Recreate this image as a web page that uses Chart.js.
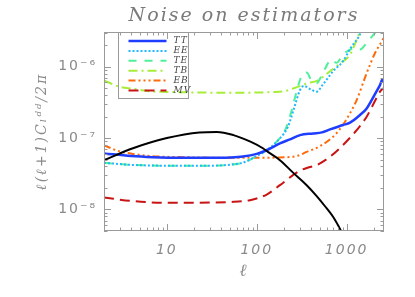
<!DOCTYPE html>
<html>
<head>
<meta charset="utf-8">
<script src="https://cdn.jsdelivr.net/npm/chart.js@4.4.1/dist/chart.umd.min.js"></script>
<style>
  html, body { margin: 0; padding: 0; background: #fff; }
</style>
</head>
<body>
<canvas id="chart" width="415" height="297"></canvas>
<script>
"use strict";

// multipole l and noise values
const sigEll = [2, 4.2, 10, 23, 36, 55, 85, 117, 133, 181, 253, 359, 464, 574, 705, 860, 950];
const sigVal = [4.9e-8, 7.2e-8, 1.0e-7, 1.2e-7, 1.22e-7, 1.1e-7, 8.9e-8, 7.2e-8, 6.4e-8, 4.9e-8, 3.28e-8, 2.19e-8, 1.54e-8, 1.11e-8, 7.9e-9, 5.1e-9, 3.95e-9];

const ttEll = [2, 4, 7, 15, 30, 50, 70, 100, 130, 181, 234, 303, 422, 530, 652, 910, 1089, 1406, 1668, 1896, 2100, 2345, 2500, 2600];
const ttVal = [6.1e-8, 5.6e-8, 5.4e-8, 5.3e-8, 5.3e-8, 5.35e-8, 5.5e-8, 6.0e-8, 6.8e-8, 8.4e-8, 9.6e-8, 1.1e-7, 1.16e-7, 1.2e-7, 1.32e-7, 1.52e-7, 1.64e-7, 2.1e-7, 2.6e-7, 3.4e-7, 4.3e-7, 5.5e-7, 6.6e-7, 6.0e-7];

const eeEll = [2, 4.2, 10, 23, 65, 100, 130, 181, 222, 263, 303, 335, 395, 464, 540, 705, 910, 1110, 1340, 1460];
const eeVal = [4.5e-8, 4.2e-8, 4.1e-8, 4.09e-8, 4.42e-8, 5.6e-8, 6.8e-8, 9.9e-8, 1.44e-7, 2.75e-7, 4.71e-7, 5.36e-7, 4.82e-7, 4.46e-7, 5.53e-7, 8.6e-7, 1.19e-6, 1.83e-6, 2.53e-6, 3.1e-6];

const teEll = [2, 4.2, 10, 23, 65, 100, 130, 181, 207, 245, 280, 320, 359, 403, 464, 520, 680, 770, 910, 1089, 1237, 1406, 1668, 2062, 2250];
const teVal = [4.5e-8, 4.2e-8, 4.1e-8, 4.09e-8, 4.42e-8, 5.6e-8, 6.8e-8, 1.0e-7, 1.29e-7, 2.47e-7, 4.71e-7, 7.65e-7, 8.24e-7, 6.5e-7, 5.85e-7, 7.24e-7, 1.25e-6, 1.13e-6, 1.47e-6, 1.73e-6, 1.83e-6, 1.73e-6, 2.15e-6, 2.97e-6, 3.4e-6];

const tbEll = [2, 3, 4.2, 6.5, 10, 20, 50, 100, 150, 207, 290, 374, 464, 652, 840, 1089, 1291, 1420];
const tbVal = [6.4e-7, 5.2e-7, 4.9e-7, 4.5e-7, 4.42e-7, 4.35e-7, 4.3e-7, 4.33e-7, 4.4e-7, 4.56e-7, 5.25e-7, 5.9e-7, 6.3e-7, 8.6e-7, 1.1e-6, 1.47e-6, 2.37e-6, 3.2e-6];

const ebEll = [2, 3, 4.2, 6.5, 15, 40, 100, 181, 278, 359, 505, 705, 880, 1089, 1291, 1668, 2062, 2449, 2600];
const ebVal = [7.9e-8, 6.5e-8, 6.0e-8, 5.6e-8, 5.4e-8, 5.3e-8, 5.3e-8, 5.36e-8, 5.6e-8, 6.4e-8, 7.7e-8, 1.04e-7, 1.44e-7, 2.22e-7, 3.4e-7, 8.1e-7, 1.54e-6, 2.24e-6, 2.6e-6];

const mvEll = [2, 4.2, 10, 55, 84, 129, 181, 290, 380, 464, 652, 910, 1291, 1668, 2062, 2345, 2550];
const mvVal = [1.47e-8, 1.31e-8, 1.24e-8, 1.28e-8, 1.35e-8, 1.62e-8, 2.19e-8, 3.4e-8, 3.9e-8, 4.18e-8, 5.47e-8, 7.98e-8, 1.29e-7, 1.99e-7, 3.3e-7, 4.46e-7, 4.98e-7];

const xTicks = [10, 100, 1000];
const yTickLabels = { "-6": "10\u207B\u2076", "-7": "10\u207B\u2077", "-8": "10\u207B\u2078" };

const AXIS = "#9a9a9a";
const TEXT = "#8a8a8a";

const pts = (ell, val) => ell.map((l, i) => ({ x: l, y: val[i] }));

const line = (label, ell, val, color, dash, width) => ({
  label, data: pts(ell, val),
  borderColor: color, backgroundColor: color,
  borderDash: dash, borderWidth: width || 2,
  pointRadius: 0, fill: false,
  cubicInterpolationMode: "monotone",
  clip: 0,
});

// decade check: returns significand (1..9) for nice ticks, 0 otherwise
const signif = v => {
  const s = v / Math.pow(10, Math.floor(Math.log10(v) + 1e-9));
  return Math.abs(s - Math.round(s)) < 1e-6 ? Math.round(s) : 0;
};

const spacing = {
  id: "spacing",
  beforeDraw(chart) { chart.ctx.letterSpacing = "2px"; },
};

// IDL-style frame with inward ticks on all four sides
const frame = {
  id: "frame",
  afterDatasetsDraw(chart) {
    const { ctx, chartArea: a, scales: { x, y } } = chart;
    ctx.save();
    ctx.strokeStyle = AXIS;
    ctx.lineWidth = 1;
    ctx.strokeRect(a.left + 0.5, a.top + 0.5, a.right - a.left - 1, a.bottom - a.top - 1);
    ctx.beginPath();
    x.ticks.forEach(t => {
      const s = signif(t.value);
      if (!s) return;
      const len = (s === 1 || s === 10) ? 7 : 3.5;
      const px = Math.round(x.getPixelForValue(t.value)) + 0.5;
      ctx.moveTo(px, a.bottom); ctx.lineTo(px, a.bottom - len);
      ctx.moveTo(px, a.top);    ctx.lineTo(px, a.top + len);
    });
    y.ticks.forEach(t => {
      const s = signif(t.value);
      if (!s) return;
      const len = (s === 1 || s === 10) ? 7 : 3.5;
      const py = Math.round(y.getPixelForValue(t.value)) + 0.5;
      ctx.moveTo(a.left, py);  ctx.lineTo(a.left + len, py);
      ctx.moveTo(a.right, py); ctx.lineTo(a.right - len, py);
    });
    ctx.stroke();
    ctx.restore();
  },
};

// boxed legend in the upper-left corner of the plot
const boxLegend = {
  id: "boxLegend",
  afterDraw(chart) {
    const { ctx, chartArea: a } = chart;
    const items = chart.data.datasets.filter(d => d.label);
    const bx = a.left + 14.5, by = a.top + 0.5, bw = 70, bh = 66;
    ctx.save();
    ctx.letterSpacing = "1px";
    ctx.strokeStyle = AXIS;
    ctx.lineWidth = 1;
    ctx.setLineDash([]);
    ctx.strokeRect(bx, by, bw, bh);
    ctx.font = "italic 9px 'DejaVu Serif'";
    ctx.fillStyle = "#444";
    ctx.textBaseline = "middle";
    items.forEach((d, i) => {
      const ry = by + 8.5 + i * 9.9;
      ctx.beginPath();
      ctx.strokeStyle = d.borderColor;
      ctx.lineWidth = d.borderWidth;
      ctx.setLineDash(d.borderDash || []);
      ctx.moveTo(bx + 10, ry);
      ctx.lineTo(bx + 48, ry);
      ctx.stroke();
      ctx.fillText(d.label, bx + 55, ry);
    });
    ctx.restore();
  },
};

new Chart(document.getElementById("chart"), {
  type: "line",
  data: {
    datasets: [
      line("", sigEll, sigVal, "#000000", [], 2),
      line("TT", ttEll, ttVal, "#1f3dff", [], 2.5),
      line("EE", eeEll, eeVal, "#20b8ff", [2, 2], 2),
      line("TE", teEll, teVal, "#4ff09a", [8, 8], 2),
      line("TB", tbEll, tbVal, "#a6ee3a", [9, 4, 2, 4], 2),
      line("EB", ebEll, ebVal, "#ff6a0a", [7, 3, 2, 3, 2, 3, 2, 3], 2),
      line("MV", mvEll, mvVal, "#c81414", [10, 6], 2),
    ],
  },
  options: {
    responsive: false,
    animation: false,
    events: [],
    layout: { padding: { left: 0, right: 31, top: 0, bottom: 0 } },
    plugins: {
      legend: { display: false },
      tooltip: { enabled: false },
      title: {
        display: true,
        text: "Noise on estimators",
        fullSize: false,
        color: "#7a7a7a",
        font: { family: "'DejaVu Serif'", style: "italic", weight: "normal", size: 19 },
        padding: { top: 5, bottom: 4.2 },
      },
    },
    scales: {
      x: {
        type: "logarithmic",
        min: 2, max: 2600,
        grid: { display: false, drawTicks: false },
        border: { display: false },
        afterFit: s => { s.height = 66; },
        ticks: {
          autoSkip: false, maxRotation: 0, padding: 11,
          color: TEXT,
          font: { family: "'DejaVu Sans'", style: "italic", size: 14 },
          callback: v => xTicks.includes(v) ? String(v) : "",
        },
        title: {
          display: true, text: "\u2113", color: TEXT,
          font: { family: "'DejaVu Serif'", style: "italic", size: 17 },
          padding: { top: 0, bottom: 15 },
        },
      },
      y: {
        type: "logarithmic",
        min: 5e-9, max: 3.05e-6,
        grid: { display: false, drawTicks: false },
        border: { display: false },
        afterFit: s => { s.width = 104; },
        ticks: {
          autoSkip: false, padding: 7,
          color: TEXT,
          font: { family: "'DejaVu Sans'", size: 14 },
          callback: v => {
            const e = Math.round(Math.log10(v));
            return signif(v) === 1 && yTickLabels[e] ? yTickLabels[e] : "";
          },
        },
        title: {
          display: true, text: "\u2113(\u2113+1)C\u2097\u1D48\u1D48/2\u03C0", color: TEXT,
          font: { family: "'DejaVu Serif'", style: "italic", size: 14 },
          padding: { top: 34, bottom: 0 },
        },
      },
    },
  },
  plugins: [spacing, frame, boxLegend],
});
</script>
</body>
</html>
